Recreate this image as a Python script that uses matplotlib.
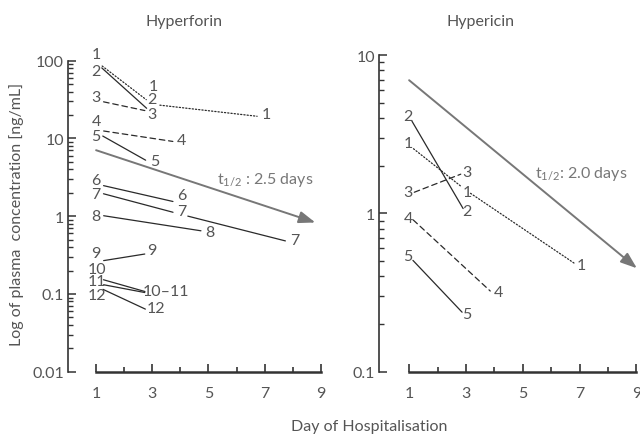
import matplotlib
matplotlib.use('Agg')
import matplotlib.pyplot as plt
from matplotlib.ticker import LogLocator, FixedLocator, NullFormatter, FuncFormatter

plt.rcParams['font.family'] = ['Lato', 'DejaVu Sans']
plt.rcParams['font.weight'] = 'normal'
plt.rcParams['mathtext.fontset'] = 'custom'
plt.rcParams['mathtext.rm'] = 'Lato'
plt.rcParams['mathtext.it'] = 'Lato'

TEXT = '#555555'
LINE = '#2a2a2a'
ARROW = '#777777'
SPINE = '#333333'
FS = 11.5

# ---------------- data ----------------
# Hyperforin (patients 1-12)
hf_days = [[1, 3, 7], [1, 3], [1, 3], [1, 4], [1, 3], [1, 4], [1, 4, 8],
           [1, 5], [1, 3], [1, 3], [1, 3], [1, 3]]
hf_vals = [[98, 27.5, 18.8], [94, 21], [31, 21.8], [12.9, 8.85], [12.0, 4.7],
           [2.6, 1.47], [2.06, 1.06, 0.455], [1.05, 0.627], [0.259, 0.338],
           [0.162, 0.101], [0.137, 0.100], [0.126, 0.058]]
hf_labels = [['1', '1', '1'], ['2', '2'], ['3', '3'], ['4', '4'], ['5', '5'],
             ['6', '6'], ['7', '7', '7'], ['8', '8'], ['9', '9'],
             ['10', '10\u201311'], ['11', ''], ['12', '12']]
hf_styles = [':', '-', '--', '--', '-', '-', '-', '-', '-', '-', '-', '-']
hf_half_days = [1, 8.8]
hf_half_vals = [7.06, 0.83]
hf_half_text = 't$_{1/2}$ : 2.5 days'

# Hypericin (patients 1-5)
hc_days = [[1, 3, 7], [1, 3], [1, 3], [1, 4], [1, 3]]
hc_vals = [[2.69, 1.4, 0.46], [4.1, 1.0], [1.32, 1.82], [0.96, 0.306], [0.535, 0.224]]
hc_labels = [['1', '1', '1'], ['2', '2'], ['3', '3'], ['4', '4'], ['5', '5']]
hc_styles = [':', '-', '--', '--', '-']
hc_half_days = [1, 9.02]
hc_half_vals = [6.93, 0.45]
hc_half_text = 't$_{1/2}$: 2.0 days'

x_ticks = [1, 3, 5, 7, 9]

# label offsets (pixels, image orientation) - layout only
hf_off = [[(0, -7), (1, -18), (2, -3)], [(0, 8), (0, -14)], [(0, -3), (0, 2)],
          [(0, -9), (1, -3)], [(0, 4), (2, -3)], [(0, -4), (1, -8)],
          [(0, 2), (1, -3), (2, -3)], [(0, 1), (1, 0)], [(0, -9), (0, -3)],
          [(1, -9), (14, -3)], [(1, -2), (0, 0)], [(1, 9), (4, -4)]]
hc_off = [[(-1, -2), (1, 1.5), (2, -2)], [(-1, 0), (1, -2)], [(-1, -2.6), (1, 0)],
          [(-1, 1.5), (4, -3)], [(-1, 0), (1, -2)]]

STY = {':': (0, (1, 1.6)), '--': (0, (4.5, 3)), '-': 'solid'}

fig = plt.figure(figsize=(6.4, 4.35), dpi=100)
axL = fig.add_axes([68 / 640, 62.3 / 435, 9.2 * 28.1 / 640, 311 / 435])
axR = fig.add_axes([379.3 / 640, 62.3 / 435, 9.25 * 28.4 / 640, 316.7 / 435])


def style_axes(ax, ylim, xlim, yticks):
    ax.set_yscale('log')
    ax.set_ylim(*ylim)
    ax.set_xlim(*xlim)
    for s in ['top', 'right']:
        ax.spines[s].set_visible(False)
    ax.spines['left'].set_color(SPINE)
    ax.spines['left'].set_linewidth(1.2)
    ax.spines['bottom'].set_color(SPINE)
    ax.spines['bottom'].set_linewidth(1.8)
    ax.spines['bottom'].set_bounds(1, 9)
    ax.xaxis.set_major_locator(FixedLocator(x_ticks))
    ax.xaxis.set_minor_locator(FixedLocator([2, 4, 6, 8]))
    ax.yaxis.set_major_locator(FixedLocator(yticks))
    ax.yaxis.set_minor_locator(LogLocator(base=10, subs=range(2, 10)))
    ax.yaxis.set_minor_formatter(NullFormatter())
    ax.yaxis.set_major_formatter(FuncFormatter(lambda v, p: ('%g' % v)))
    ax.tick_params(axis='x', which='major', direction='in', length=6, width=1.2,
                   color=SPINE, labelsize=FS, labelcolor=TEXT, pad=10)
    ax.tick_params(axis='x', which='minor', direction='in', length=3.5, width=1.2,
                   color=SPINE)
    ax.tick_params(axis='y', which='major', direction='in', length=6, width=1.1,
                   color=SPINE, labelsize=FS, labelcolor=TEXT, pad=3)
    ax.tick_params(axis='y', which='minor', direction='in', length=3.5, width=1.0,
                   color=SPINE)
    ax.patch.set_visible(False)


def draw_series(ax, days, vals, labels, styles, offs, shrink):
    for d, v, lab, st, off in zip(days, vals, labels, styles, offs):
        for i in range(len(d) - 1):
            ax.annotate('', xy=(d[i + 1], v[i + 1]), xytext=(d[i], v[i]),
                        arrowprops=dict(arrowstyle='-', color=LINE, lw=0.9,
                                        linestyle=STY[st], shrinkA=shrink,
                                        shrinkB=shrink), annotation_clip=False)
        for x, y, t, (dx, dy) in zip(d, v, lab, off):
            if t:
                ax.annotate(t, xy=(x, y), xytext=(dx * 0.72, -dy * 0.72),
                            textcoords='offset points', ha='center', va='center',
                            fontsize=FS, color=TEXT, annotation_clip=False)


def draw_half(ax, days, vals, text, tpos):
    ax.annotate('', xy=(days[1], vals[1]), xytext=(days[0], vals[0]),
                arrowprops=dict(arrowstyle='-|>,head_length=0.9,head_width=0.33',
                                color=ARROW, lw=1.4, shrinkA=0, shrinkB=0,
                                mutation_scale=11), annotation_clip=False)
    ax.text(tpos[0], tpos[1], text, ha='left', va='baseline', fontsize=FS, color=ARROW)


style_axes(axL, (0.01, 100), (0, 9.2), [0.01, 0.1, 1, 10, 100])
style_axes(axR, (0.1, 10), (-0.05, 9.2), [0.1, 1, 10])

draw_series(axL, hf_days, hf_vals, hf_labels, hf_styles, hf_off, 5.5)
draw_series(axR, hc_days, hc_vals, hc_labels, hc_styles, hc_off, 4)
draw_half(axL, hf_half_days, hf_half_vals, hf_half_text, (5.3, 2.7))
draw_half(axR, hc_half_days, hc_half_vals, hc_half_text, (5.44, 1.69))

fig.text(184 / 640, 1 - 22 / 435, 'Hyperforin', ha='center', va='center',
         fontsize=FS, color=TEXT)
fig.text(481 / 640, 1 - 22 / 435, 'Hypericin', ha='center', va='center',
         fontsize=FS, color=TEXT)
fig.text(369 / 640, 4 / 435, 'Day of Hospitalisation', ha='center', va='baseline',
         fontsize=FS, color=TEXT)
fig.text(17 / 640, 1 - 214 / 435, 'Log of plasma  concentration [ng/mL]',
         rotation=90, ha='center', va='center', fontsize=FS, color=TEXT)

fig.savefig('out.png', dpi=100)
